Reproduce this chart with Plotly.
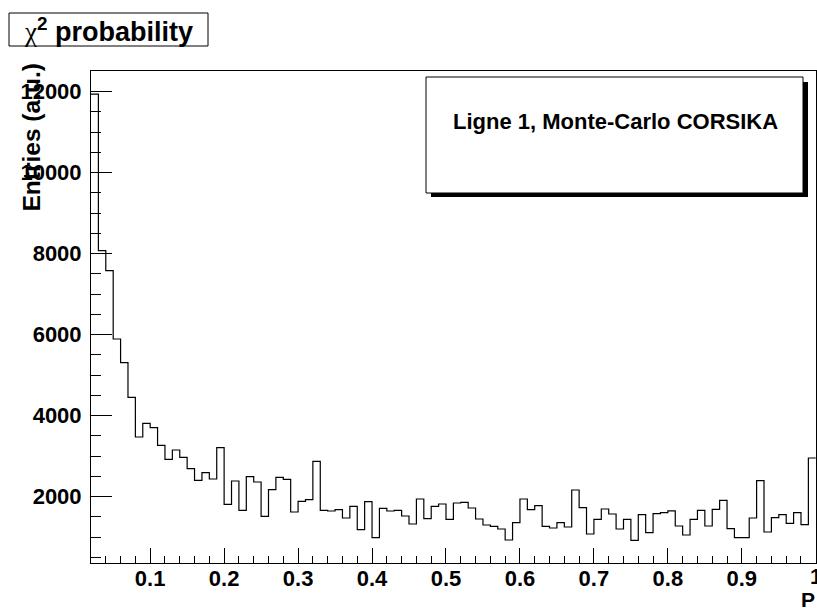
import numpy as np
import plotly.graph_objects as go

# ---- data: chi2 probability histogram (bin width 0.01, from 0.02 to 1.00) ----
bin_lo = 0.02
bin_width = 0.01
counts = [
    11940, 8074, 7580, 5894, 5309, 4450, 3474, 3812, 3704, 3269,
    2923, 3153, 2973, 2691, 2405, 2593, 2437, 3210, 1812, 2388,
    1663, 2494, 2363, 1516, 2173, 2479, 2430, 1622, 1886, 1926,
    2874, 1663, 1647, 1679, 1474, 1763, 1185, 1877, 988, 1713,
    1647, 1663, 1523, 1326, 1943, 1457, 1763, 1820, 1442, 1844,
    1862, 1721, 1449, 1301, 1269, 1202, 931, 1358, 1943, 1679,
    1778, 1269, 1227, 1358, 1252, 2165, 1728, 1079, 1442, 1696,
    1573, 1202, 1442, 923, 1556, 1111, 1580, 1605, 1650, 1277,
    1054, 1442, 1663, 1277, 1688, 1911, 1210, 988, 988, 1474,
    2395, 1128, 1482, 1556, 1343, 1605, 1309, 2956,
]
x_title = "P"
y_title = "Entries (a.u.)"
legend_text = "Ligne 1, Monte-Carlo CORSIKA"
x_tickvals = [0.1, 0.2, 0.3, 0.4, 0.5, 0.6, 0.7, 0.8, 0.9, 1.0]
x_ticktext = ["0.1", "0.2", "0.3", "0.4", "0.5", "0.6", "0.7", "0.8", "0.9", "1"]
y_tickvals = [2000, 4000, 6000, 8000, 10000, 12000]
y_ticktext = ["2000", "4000", "6000", "8000", "10000", "12000"]

edges = np.round(bin_lo + bin_width * np.arange(len(counts) + 1), 4)
xs = list(edges)
ys = list(counts) + [counts[-1]]

W, H = 817, 608
L, R, T, B = 91, 816, 71, 563
def px(x):
    return (x - L) / (R - L)
def py(y):
    return (B - y) / (B - T)

FONT = "Liberation Sans, Arial, Helvetica, sans-serif"
TICKFONT = dict(family=FONT, size=22, weight="bold", color="black")

fig = go.Figure()
fig.add_trace(go.Scatter(
    x=xs, y=ys, mode="lines", line=dict(shape="hv", color="black", width=1.2),
    hoverinfo="skip", showlegend=False, cliponaxis=False,
))

# the last tick label sits on the right edge of the canvas; drawn as an annotation
main_ticktext = x_ticktext[:-1] + [""]

fig.update_layout(
    width=W, height=H,
    margin=dict(l=L, r=W - R, t=T, b=H - B, autoexpand=False),
    paper_bgcolor="white", plot_bgcolor="white",
    font=dict(family=FONT, color="black"),
    showlegend=False,
    xaxis=dict(
        range=[0.02, 1.0003], showgrid=False, zeroline=False, automargin=False,
        showline=True, linecolor="black", linewidth=1, mirror=True,
        ticks="inside", ticklen=15, tickwidth=1, tickcolor="black",
        tickvals=x_tickvals, ticktext=main_ticktext,
        tickfont=TICKFONT,
        ticklabelstandoff=-4,
        minor=dict(ticks="inside", dtick=0.02, tick0=0, ticklen=7, tickcolor="black", showgrid=False),
    ),
    yaxis=dict(
        range=[363, 12511], showgrid=False, zeroline=False, automargin=False,
        showline=True, linecolor="black", linewidth=1, mirror=True,
        ticks="inside", ticklen=21, tickwidth=1, tickcolor="black",
        tickvals=y_tickvals, ticktext=y_ticktext,
        tickfont=TICKFONT,
        ticklabelstandoff=4,
        minor=dict(ticks="inside", dtick=500, tick0=0, ticklen=10, tickcolor="black", showgrid=False),
    ),
)

shapes = [
    # title box
    dict(type="rect", xref="paper", yref="paper",
         x0=px(9), x1=px(208), y0=py(46), y1=py(13),
         line=dict(color="black", width=1), fillcolor="white", layer="above"),
    # legend shadow
    dict(type="rect", xref="paper", yref="paper",
         x0=px(431), x1=px(808), y0=py(197), y1=py(82),
         line=dict(color="black", width=0), fillcolor="black", layer="above"),
    # legend box
    dict(type="rect", xref="paper", yref="paper",
         x0=px(426), x1=px(803), y0=py(193), y1=py(77),
         line=dict(color="black", width=1), fillcolor="white", layer="above"),
]
fig.update_layout(shapes=shapes)

annotations = [
    dict(text="<span style='font-family:Liberation Serif,serif;font-weight:normal'>χ</span>"
              "<sup>2</sup> probability",
         xref="paper", yref="paper", x=px(108), y=py(30), xanchor="center", yanchor="middle",
         showarrow=False, font=dict(family=FONT, size=27, weight="bold", color="black")),
    dict(text=legend_text, xref="paper", yref="paper", x=px(615), y=py(121),
         xanchor="center", yanchor="middle", showarrow=False,
         font=dict(family=FONT, size=22, weight="bold", color="black")),
    dict(text=y_title, xref="paper", yref="paper", x=px(31), y=py(137.5),
         xanchor="center", yanchor="middle", textangle=-90, showarrow=False,
         font=dict(family=FONT, size=24.5, weight="bold", color="black")),
    dict(text=x_title, xref="paper", yref="paper", x=px(817), y=py(599),
         xanchor="right", yanchor="middle", showarrow=False,
         font=dict(family=FONT, size=21, weight="bold", color="black")),
    dict(text=x_ticktext[-1], xref="x", yref="paper", x=x_tickvals[-1], y=py(576),
         xanchor="center", yanchor="middle", showarrow=False, font=TICKFONT),
]
fig.update_layout(annotations=annotations)

fig.write_html("out.html", config={"displayModeBar": False})

# remove default page margins so the figure fills the window exactly
with open("out.html", "r", encoding="utf-8") as f:
    html = f.read()
html = html.replace("<head>", "<head><style>html,body{margin:0;padding:0;overflow:hidden;}</style>", 1)
with open("out.html", "w", encoding="utf-8") as f:
    f.write(html)
